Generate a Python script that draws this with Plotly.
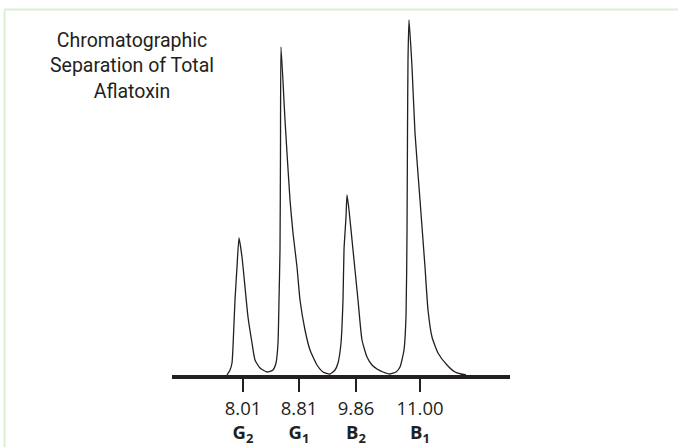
import plotly.graph_objects as go

# Trace of the chromatogram signal (position units along the baseline, signal height)
curve_x = [227, 230, 232, 233, 235, 237, 239,
           242, 245, 248, 252, 255, 260, 267, 273, 276, 278, 279, 280, 280.5, 281,
           285, 290, 293, 297, 300, 305, 310, 317, 323, 330, 335, 338, 341, 343, 344, 346, 347,
           349, 353, 358, 362, 367, 372, 377, 383, 390, 396, 400, 404, 406, 407, 407.5, 408, 409,
           412, 415, 420, 425, 428, 432, 438, 447, 455, 461, 466]
curve_y = [0, 5, 12, 28, 75, 108, 137,
           118, 88, 58, 32, 15, 7, 3, 5, 12, 32, 75, 125, 225, 328,
           255, 175, 142, 108, 75, 45, 25, 10, 3, 1, 5, 12, 32, 75, 125, 158, 180,
           165, 125, 75, 35, 18, 10, 6, 3, 1, 3, 8, 25, 58, 142, 242, 315, 355,
           308, 242, 175, 108, 65, 38, 22, 10, 3, 1, 0]

tick_pos = [243, 299, 356, 420]
tick_times = ["8.01", "8.81", "9.86", "11.00"]
tick_names = ["G<sub>2</sub>", "G<sub>1</sub>", "B<sub>2</sub>", "B<sub>1</sub>"]

title_lines = ["Chromatographic", "Separation of Total", "Aflatoxin"]

ink = "#231f20"

fig = go.Figure()
fig.add_trace(go.Scatter(
    x=curve_x, y=curve_y, mode="lines",
    line=dict(color=ink, width=1.3, shape="spline", smoothing=0.5),
    hoverinfo="skip", showlegend=False, cliponaxis=False,
))

W, H = 678, 447
ml, mr, mt, mb = 172, 168, 17, 72
pw, ph = W - ml - mr, H - mt - mb

def px_to_paper_x(px):
    return (px - ml) / pw

def px_to_paper_y(py):
    return (H - mb - py) / ph

border = "#dcefd5"
fig.add_shape(type="line", xref="paper", yref="paper",
              x0=px_to_paper_x(4.5), x1=px_to_paper_x(690),
              y0=px_to_paper_y(9.5), y1=px_to_paper_y(9.5),
              line=dict(color=border, width=2))
fig.add_shape(type="line", xref="paper", yref="paper",
              x0=px_to_paper_x(4.5), x1=px_to_paper_x(4.5),
              y0=px_to_paper_y(9.5), y1=px_to_paper_y(460),
              line=dict(color=border, width=2))

fig.add_annotation(
    xref="paper", yref="paper",
    x=px_to_paper_x(132), y=px_to_paper_y(27),
    xanchor="center", yanchor="top", align="center", showarrow=False,
    text="<br>".join(title_lines),
    font=dict(family="Roboto, Liberation Sans, Arial", size=19.5, color=ink),
)

fig.update_layout(
    width=W, height=H,
    margin=dict(l=ml, r=mr, t=mt, b=mb, autoexpand=False),
    paper_bgcolor="white", plot_bgcolor="white",
    xaxis=dict(
        range=[ml, W - mr], showgrid=False, zeroline=False, automargin=False,
        showline=True, linewidth=4, linecolor=ink,
        ticks="outside", ticklen=13, tickwidth=1.5, tickcolor=ink,
        ticklabelstandoff=1,
        tickvals=tick_pos,
        ticktext=[f"{t}<br><b>{n}</b>" for t, n in zip(tick_times, tick_names)],
        tickfont=dict(family="Open Sans, Noto Sans, sans-serif", size=18.5, color=ink),
        fixedrange=True,
    ),
    yaxis=dict(range=[0, ph], visible=False, fixedrange=True, automargin=False),
)

fig.write_html("out.html", config={"displayModeBar": False},
               post_script="document.body.style.margin='0px';")
